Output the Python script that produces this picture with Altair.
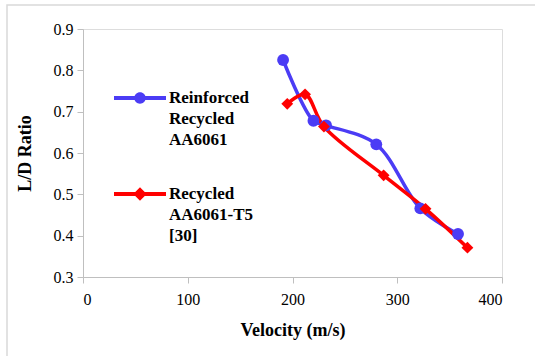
import altair as alt
import pandas as pd

series_a = "Reinforced|Recycled|AA6061"
series_b = "Recycled|AA6061-T5|[30]"

vel_a = [191, 220, 232, 280, 322, 358]
ld_a = [0.825, 0.678, 0.667, 0.621, 0.466, 0.404]
vel_b = [195, 212, 230, 287, 327, 367]
ld_b = [0.719, 0.742, 0.664, 0.546, 0.465, 0.371]

x_ticks = [0, 100, 200, 300, 400]
y_ticks = [0.3, 0.4, 0.5, 0.6, 0.7, 0.8, 0.9]

colors = ["#4B3CF5", "#FF0000"]

df = pd.DataFrame(
    {"series": [series_a] * len(vel_a) + [series_b] * len(vel_b),
     "velocity": vel_a + vel_b,
     "ld": ld_a + ld_b}
)

FONT = "Liberation Serif"

# legend symbol paths (filled): bar with marker
dy = 0.0
h = 0.075
r = 0.22
d = 0.26
bar = f"M-1,{dy-h}L1,{dy-h}L1,{dy+h}L-1,{dy+h}Z"
circ = bar + f"M{-r},{dy}A{r},{r} 0 1,1 {r},{dy}A{r},{r} 0 1,1 {-r},{dy}Z"
diam = bar + f"M0,{dy-d}L{d},{dy}L0,{dy+d}L{-d},{dy}Z"

xenc = alt.X("velocity:Q", title="Velocity (m/s)",
             scale=alt.Scale(domain=[0, 400], nice=False),
             axis=alt.Axis(values=x_ticks, grid=False, domainColor="#BFBFBF",
                           tickColor="#BFBFBF", tickSize=6, labelPadding=8,
                           labelFont=FONT, labelFontSize=16, labelColor="#000",
                           titleFont=FONT, titleFontSize=18, titleFontWeight="bold",
                           titleColor="#000", titlePadding=14))
yenc = alt.Y("ld:Q", title="L/D Ratio",
             scale=alt.Scale(domain=[0.3, 0.9], nice=False, zero=False),
             axis=alt.Axis(values=y_ticks, format=".1f", grid=False, domainColor="#BFBFBF",
                           tickColor="#BFBFBF", tickSize=6, labelPadding=4,
                           labelFont=FONT, labelFontSize=16, labelColor="#000",
                           titleFont=FONT, titleFontSize=18, titleFontWeight="bold",
                           titleColor="#000", titlePadding=19))

dom = [series_a, series_b]
color_scale = alt.Scale(domain=dom, range=colors)

lines = alt.Chart(df).mark_line(interpolate="catmull-rom", strokeWidth=3.5).encode(
    x=xenc, y=yenc,
    color=alt.Color("series:N", scale=color_scale, legend=None),
)

points = alt.Chart(df).mark_point(filled=True, opacity=1, size=140).encode(
    x="velocity:Q", y="ld:Q",
    color=alt.Color("series:N", scale=color_scale, legend=None),
    shape=alt.Shape("series:N", scale=alt.Scale(domain=dom, range=["circle", "diamond"]),
                    legend=None),
)

leg = alt.Legend(
    title=None, orient="none", legendX=31, legendY=43, padding=0,
    labelFont=FONT, labelFontSize=17, labelFontWeight="bold", labelColor="#000",
    labelExpr="split(datum.label, '|')", labelOffset=3, labelLimit=300,
    rowPadding=20, symbolSize=2704, symbolOpacity=1, symbolStrokeWidth=0,
)

legend_layer = alt.Chart(df).mark_point(filled=True, opacity=0).encode(
    x="velocity:Q", y="ld:Q",
    color=alt.Color("series:N", scale=color_scale, legend=leg),
    shape=alt.Shape("series:N", scale=alt.Scale(domain=dom, range=[circ, diam]), legend=leg),
)

frame = alt.Chart(alt.Data(values=[{}])).mark_rect(
    fill="transparent", stroke="#D9D9D9", strokeWidth=1.5
).encode(x=alt.value(-76), x2=alt.value(470), y=alt.value(-24), y2=alt.value(340))

chart = alt.layer(frame, lines, points, legend_layer).resolve_scale(
    color="independent", shape="independent"
).properties(
    width=419, height=248,
    autosize=alt.AutoSizeParams(type="none"),
    padding={"left": 83, "top": 29, "right": 33, "bottom": 79},
).configure_view(stroke=None).configure(
    background="white", font=FONT,
    style={"guide-label": {"lineHeight": 21, "font": FONT},
           "guide-title": {"font": FONT}}
)

chart.save("out.html", embed_options={"renderer": "svg", "actions": False})
